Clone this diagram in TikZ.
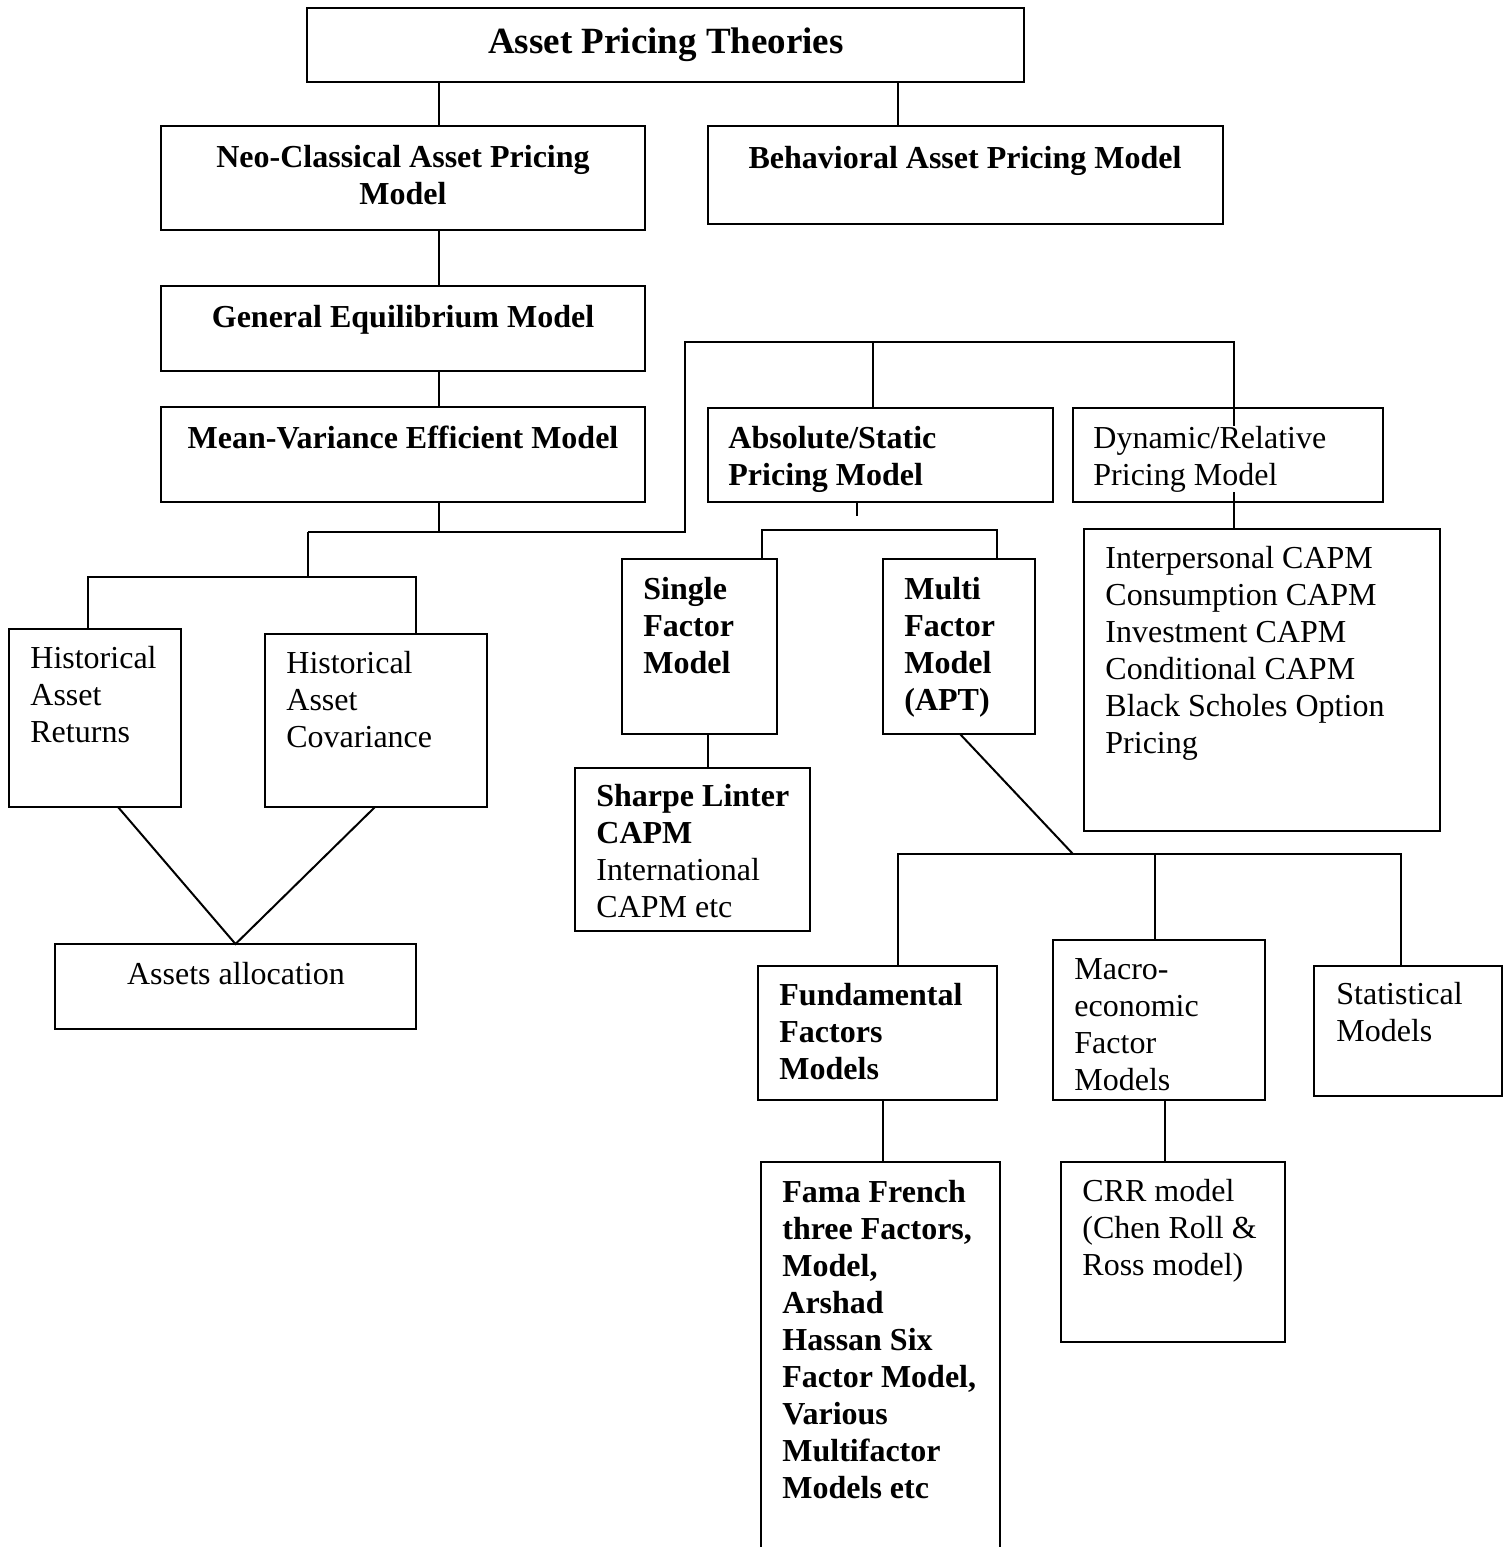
\documentclass[tikz,border=0pt]{standalone}
\usepackage{fontspec}
\setmainfont{Liberation Serif}
\usetikzlibrary{fit}

\tikzset{
  box/.style={draw, line width=1pt, inner sep=0pt, outer sep=0pt},
  conn/.style={line width=1pt},
  txt/.style={inner sep=0pt, anchor=base west, align=left, font=\fontsize{16pt}{18.5pt}\selectfont},
  btxt/.style={txt, font=\fontsize{16pt}{18.5pt}\selectfont\bfseries},
  ctxt/.style={btxt, anchor=base, align=center},
}

\begin{document}
\begin{tikzpicture}[x=0.5pt,y=-0.5pt]
  \useasboundingbox (0,0) rectangle (1507,1547);
  \clip (0,0) rectangle (1507,1547);

  % boxes
  \node[box, fit={(307,8) (1024,82)}] (top) {};
  \node[box, fit={(161,126) (645,230)}] (neo) {};
  \node[box, fit={(708,126) (1223,224)}] (behav) {};
  \node[box, fit={(161,286) (645,371)}] (geneq) {};
  \node[box, fit={(161,407) (645,502)}] (mv) {};
  \node[box, fit={(708,408) (1053,502)}] (abs) {};
  \node[box, fit={(1073,408) (1383,502)}] (dyn) {};
  \node[box, fit={(9,629) (181,807)}] (ret) {};
  \node[box, fit={(265,634) (487,807)}] (cov) {};
  \node[box, fit={(55,944) (416,1029)}] (alloc) {};
  \node[box, fit={(622,559) (777,734)}] (single) {};
  \node[box, fit={(883,559) (1035,734)}] (multi) {};
  \node[box, fit={(575,768) (810,931)}] (sharpe) {};
  \node[box, fit={(1084,529) (1440,831)}] (icapm) {};
  \node[box, fit={(758,966) (997,1100)}] (fund) {};
  \node[box, fit={(1053,940) (1265,1100)}] (macro) {};
  \node[box, fit={(1314,966) (1502,1096)}] (stat) {};
  \node[box, fit={(761,1162) (1000,1580)}] (fama) {};
  \node[box, fit={(1061,1162) (1285,1342)}] (crr) {};

  % trunk
  \coordinate (tA) at (439,0);
  \coordinate (tB) at (898,0);
  \draw[conn] (top.south -| tA) -- (neo.north -| tA);
  \draw[conn] (top.south -| tB) -- (behav.north -| tB);
  \draw[conn] (neo.south -| tA) -- (geneq.north -| tA);
  \draw[conn] (geneq.south -| tA) -- (mv.north -| tA);

  % bus below mean-variance
  \coordinate (m1) at (439,532);
  \coordinate (m2) at (308,532);
  \coordinate (m3) at (685,532);
  \coordinate (m4) at (685,342);
  \coordinate (m5) at (1234,342);
  \coordinate (m6) at (873,342);
  \draw[conn] (mv.south -| m1) -- (m1);
  \draw[conn] (m2) -- (m3) -- (m4) -- (m5) -- (icapm.north -| m5);
  \draw[conn] (m6) -- (abs.north -| m6);

  % historical data
  \coordinate (h1) at (308,577);
  \coordinate (h2) at (88,577);
  \coordinate (h3) at (416,577);
  \coordinate (v1) at (118,0);
  \coordinate (v2) at (375,0);
  \draw[conn] (m2) -- (h1);
  \draw[conn] (ret.north -| h2) -- (h2) -- (h3) -- (cov.north -| h3);
  \draw[conn] (ret.south -| v1) -- (alloc.north) -- (cov.south -| v2);

  % absolute/static
  \coordinate (s1) at (857,516);
  \coordinate (s2) at (762,530);
  \coordinate (s3) at (997,530);
  \coordinate (s4) at (708,0);
  \draw[conn] (abs.south -| s1) -- (s1);
  \draw[conn] (single.north -| s2) -- (s2) -- (s3) -- (multi.north -| s3);
  \draw[conn] (single.south -| s4) -- (sharpe.north -| s4);

  % multi factor
  \coordinate (f0) at (960,0);
  \coordinate (f1) at (1073,854);
  \coordinate (f2) at (898,854);
  \coordinate (f3) at (1155,854);
  \coordinate (f4) at (1401,854);
  \coordinate (f5) at (883,0);
  \coordinate (f6) at (1165,0);
  \draw[conn] (multi.south -| f0) -- (f1);
  \draw[conn] (fund.north -| f2) -- (f2) -- (f4) -- (stat.north -| f4);
  \draw[conn] (f3) -- (macro.north -| f3);
  \draw[conn] (fund.south -| f5) -- (fama.north -| f5);
  \draw[conn] (macro.south -| f6) -- (crr.north -| f6);

  % texts (anchored at the baseline of the last line)
  \node[ctxt, font=\fontsize{18.5pt}{22pt}\selectfont\bfseries] (top-t) at (666,53) {Asset Pricing Theories};
  \node[ctxt] (neo-t) at (403,204) {Neo-Classical Asset Pricing\\Model};
  \node[ctxt] (behav-t) at (965,168) {Behavioral Asset Pricing Model};
  \node[ctxt] (geneq-t) at (403,327) {General Equilibrium Model};
  \node[ctxt] (mv-t) at (403,448) {Mean-Variance Efficient Model};
  \node[btxt] (abs-t) at (728,485) {Absolute/Static\\Pricing Model};
  \node[txt, fill=white] (dyn-t) at (1093,485) {Dynamic/Relative\\Pricing Model};
  \node[txt] (ret-t) at (30,742) {Historical\\Asset\\Returns};
  \node[txt] (cov-t) at (286,747) {Historical\\Asset\\Covariance};
  \node[txt, anchor=base] (alloc-t) at (236,984) {Assets allocation};
  \node[btxt] (single-t) at (643,673) {Single\\Factor\\Model};
  \node[btxt] (multi-t) at (904,710) {Multi\\Factor\\Model\\(APT)};
  \node[txt] (sharpe-t) at (596,917) {\textbf{Sharpe Linter}\\\textbf{CAPM}\\International\\CAPM etc};
  \node[txt] (icapm-t) at (1105,753) {Interpersonal CAPM\\Consumption CAPM\\Investment CAPM\\Conditional CAPM\\Black Scholes Option\\Pricing};
  \node[btxt] (fund-t) at (779,1079) {Fundamental\\Factors\\Models};
  \node[txt] (macro-t) at (1074,1090) {Macro-\\economic\\Factor\\Models};
  \node[txt] (stat-t) at (1336,1041) {Statistical\\Models};
  \node[btxt] (fama-t) at (782,1498) {Fama French\\three Factors,\\Model,\\Arshad\\Hassan Six\\Factor Model,\\Various\\Multifactor\\Models etc};
  \node[txt] (crr-t) at (1082,1275) {CRR model\\(Chen Roll \&\\Ross model)};
\end{tikzpicture}
\end{document}
